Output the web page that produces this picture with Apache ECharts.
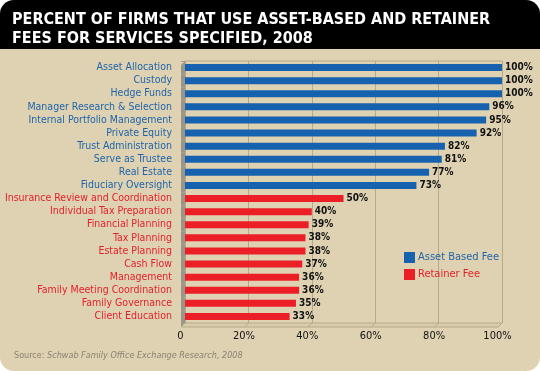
<!DOCTYPE html>
<html><head><meta charset="utf-8">
<script src="https://cdn.jsdelivr.net/npm/echarts@6/dist/echarts.min.js"></script>
<style>html,body{margin:0;padding:0;background:#fff}#c{width:540px;height:371px}</style>
</head><body><div id="c"></div>
<script>
const assetCategories = ["Asset Allocation","Custody","Hedge Funds","Manager Research & Selection","Internal Portfolio Management","Private Equity","Trust Administration","Serve as Trustee","Real Estate","Fiduciary Oversight"];
const assetValues = [100,100,100,96,95,92,82,81,77,73];
const retainerCategories = ["Insurance Review and Coordination","Individual Tax Preparation","Financial Planning","Tax Planning","Estate Planning","Cash Flow","Management","Family Meeting Coordination","Family Governance","Client Education"];
const retainerValues = [50,40,39,38,38,37,36,36,35,33];
const xTicks = [0,20,40,60,80,100];

const BLUE = '#1762ae', RED = '#ec1f27';
const LBLUE = '#1f64aa', LRED = '#e3212b';
const FONT = '"Liberation Sans Narrow","DejaVu Sans Condensed",sans-serif';
const categories = assetCategories.concat(retainerCategories);
const nA = assetCategories.length;
const assetSeries = categories.map((c,i)=> i < nA ? assetValues[i] : '-');
const retainerSeries = categories.map((c,i)=> i >= nA ? retainerValues[i-nA] : '-');

const G = {left:185, right:38, top:61, bottom:48};
const W = 540, H = 371;
const x0 = G.left, x1 = W - G.right, yTop = G.top, yBot = H - G.bottom;

const chart = echarts.init(document.getElementById('c'), null, {renderer:'canvas'});
const valueLabel = {show:true, position:'right', distance:3, formatter:'{c}%', color:'#111', fontFamily:FONT, fontWeight:'bold', fontSize:10};

const floorEls = [];
floorEls.push({type:'polygon', z:-1, shape:{points:[[x0,yBot],[x1,yBot],[x1-4,yBot+4],[x0-4,yBot+4]]}, style:{fill:'#d9cca9', stroke:'#b4a98d', lineWidth:1}, silent:true});
xTicks.forEach(t=>{
  const x = x0 + (x1-x0)*t/100;
  floorEls.push({type:'line', z:-1, shape:{x1:x, y1:yBot, x2:x-4, y2:yBot+4}, style:{stroke:'#b4a98d', lineWidth:1}, silent:true});
});

chart.setOption({
  backgroundColor:'#ffffff',
  animation:false,
  graphic:[
    {type:'rect', z:-10, shape:{x:0,y:0,width:W,height:H,r:14}, style:{fill:'#dfd2b2'}, silent:true},
    {type:'rect', z:-9, shape:{x:0,y:0,width:W,height:49,r:[14,14,0,0]}, style:{fill:'#000'}, silent:true},
    {type:'text', z:5, left:12, top:10, style:{text:'PERCENT OF FIRMS THAT USE ASSET-BASED AND RETAINER\nFEES FOR SERVICES SPECIFIED, 2008', fill:'#fff', font:'bold 16px "Liberation Sans Narrow","DejaVu Sans Condensed",sans-serif', lineHeight:19}},
    {type:'polygon', z:-1, shape:{points:[[x0-4,yTop+4],[x0,yTop],[x0,yBot],[x0-4,yBot+4]]}, style:{fill:'#9a958a'}, silent:true},
    {type:'line', z:-1, shape:{x1:x0,y1:yTop,x2:x1,y2:yTop}, style:{stroke:'#b4a98d',lineWidth:1}, silent:true},
    ...floorEls,
    {type:'text', z:5, left:14, top:351, style:{rich:{a:{fontFamily:FONT,fontSize:9,fill:'#8a8272'},b:{fontFamily:FONT,fontSize:9,fontStyle:'italic',fill:'#8a8272'}}, text:'{a|Source: }{b|Schwab Family Office Exchange Research, 2008}'}}
  ],
  grid:{left:G.left, right:G.right, top:G.top, bottom:G.bottom, containLabel:false, outerBoundsMode:'none'},
  legend:{
    orient:'vertical', left:399, top:247, itemWidth:11, itemHeight:11, itemGap:6, icon:'rect',
    data:[
      {name:'Asset Based Fee', textStyle:{color:LBLUE}},
      {name:'Retainer Fee', textStyle:{color:LRED}}
    ],
    textStyle:{fontFamily:FONT, fontSize:11, padding:[0,0,0,-2]}
  },
  xAxis:{
    type:'value', min:0, max:100, interval:20,
    axisLine:{show:false}, axisTick:{show:false},
    splitLine:{show:true, lineStyle:{color:'#b4a98d', width:1}},
    axisLabel:{formatter:v=> v===0 ? '0' : v+'%', color:'#111', fontFamily:FONT, fontSize:11, margin:8, padding:[0,9,0,0]}
  },
  yAxis:{
    type:'category', data:categories, inverse:true,
    axisLine:{show:false},
    axisTick:{show:true, length:4, lineStyle:{color:'#a9a08a'}},
    axisLabel:{interval:0, margin:13, fontFamily:FONT, fontSize:10.5, color:(v,i)=> (categories.indexOf(v) < nA ? LBLUE : LRED)}
  },
  series:[
    {name:'Asset Based Fee', type:'bar', data:assetSeries, barWidth:7, barGap:'-100%', itemStyle:{color:BLUE}, label:valueLabel},
    {name:'Retainer Fee', type:'bar', data:retainerSeries, barWidth:7, barGap:'-100%', itemStyle:{color:RED}, label:valueLabel}
  ]
});
</script></body></html>
